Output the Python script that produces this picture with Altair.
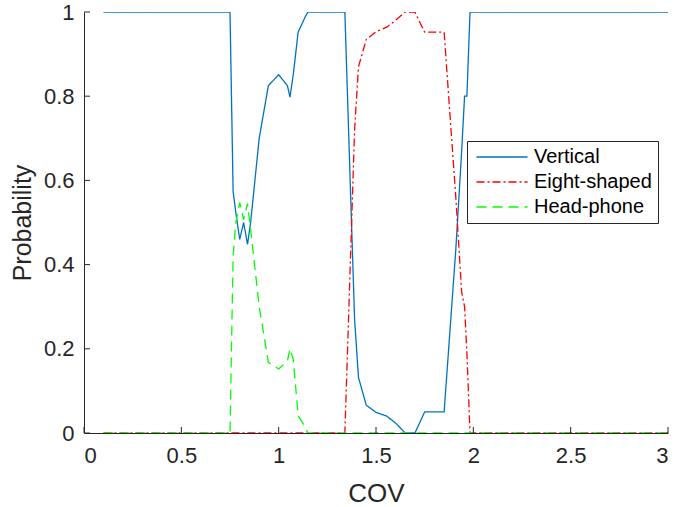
import altair as alt
import pandas as pd

# Common COV sample positions
cov = [0.1, 0.75, 0.766, 0.78, 0.80, 0.82, 0.84, 0.856, 0.90, 0.947, 1.0, 1.045,
       1.058, 1.075, 1.10, 1.138, 1.15, 1.34, 1.37, 1.39, 1.41, 1.45, 1.50, 1.555,
       1.60, 1.65, 1.70, 1.75, 1.85, 1.91, 1.94, 1.955, 1.967, 1.983, 3.0]

vertical = [1, 1, 0.574, 0.523, 0.46, 0.50, 0.448, 0.50, 0.70, 0.825, 0.851, 0.825,
            0.798, 0.851, 0.952, 0.99, 1, 1, 0.56, 0.27, 0.132, 0.066, 0.049, 0.04,
            0.024, 0, 0, 0.05, 0.05, 0.436, 0.669, 0.80, 0.80, 1, 1]

eight_shaped = [0, 0, 0, 0, 0, 0, 0, 0, 0, 0, 0, 0,
                0, 0, 0, 0, 0, 0, 0.43, 0.72, 0.87, 0.935, 0.953, 0.964,
                0.98, 1, 1, 0.952, 0.952, 0.56, 0.335, 0.30, 0.19, 0, 0]

head_phone = [0, 0, 0.42, 0.50, 0.547, 0.507, 0.545, 0.483, 0.30, 0.168, 0.152, 0.171,
              0.20, 0.175, 0.041, 0.013, 0, 0, 0, 0, 0, 0, 0, 0,
              0, 0, 0, 0, 0, 0, 0, 0, 0, 0, 0]

series_names = ["Vertical", "Eight-shaped", "Head-phone"]
series_colors = ["#0072BD", "#FF0000", "#00FF00"]
series_dashes = [[1, 0], [8, 3, 2, 3], [10, 6]]

x_ticks = [0, 0.5, 1, 1.5, 2, 2.5, 3]
y_ticks = [0, 0.2, 0.4, 0.6, 0.8, 1]

rows = []
for name, vals in zip(series_names, [vertical, eight_shaped, head_phone]):
    for i, (c, v) in enumerate(zip(cov, vals)):
        rows.append({"COV": c, "Probability": v, "series": name, "order": i})
df = pd.DataFrame(rows)

W, H = 584, 421
xscale = alt.Scale(domain=[0, 3], nice=False, zero=False)
yscale = alt.Scale(domain=[0, 1], nice=False)
ink = "#262626"

lines = alt.Chart(df).mark_line(strokeWidth=1.3, clip=True).encode(
    x=alt.X("COV:Q", scale=xscale,
            axis=alt.Axis(title="COV", values=x_ticks, format="~g", ticks=False,
                          tickSize=0, labelPadding=12, titleFontSize=26,
                          titleX=W / 2, titleY=68, titleBaseline="alphabetic",
                          titleFontWeight="normal")),
    y=alt.Y("Probability:Q", scale=yscale,
            axis=alt.Axis(title="Probability", values=y_ticks, format="~g",
                          ticks=False, tickSize=0, labelPadding=10,
                          titleFontSize=25, titleAngle=-90, titleX=-54,
                          titleY=H / 2, titleAlign="center",
                          titleBaseline="alphabetic", titleFontWeight="normal")),
    color=alt.Color("series:N",
                    scale=alt.Scale(domain=series_names, range=series_colors),
                    legend=alt.Legend(title=None, orient="none", legendX=383,
                                      legendY=129, symbolType="M-5,0H5",
                                      symbolSize=104, symbolStrokeWidth=1.3,
                                      symbolFillColor="transparent",
                                      labelFontSize=20, labelFont="Liberation Sans",
                                      labelColor="#000000", strokeColor=ink,
                                      fillColor="white", padding=6, rowPadding=5,
                                      symbolOffset=19, labelOffset=22)),
    strokeDash=alt.StrokeDash("series:N",
                              scale=alt.Scale(domain=series_names,
                                              range=series_dashes),
                              legend=None),
    order="order:Q",
)

xt = pd.DataFrame({"t": x_ticks})
yt = pd.DataFrame({"t": y_ticks})
xtick_marks = alt.Chart(xt).mark_rule(color=ink, strokeWidth=1).encode(
    x=alt.X("t:Q", scale=xscale), y=alt.value(H), y2=alt.value(H - 6))
ytick_marks = alt.Chart(yt).mark_rule(color=ink, strokeWidth=1).encode(
    y=alt.Y("t:Q", scale=yscale), x=alt.value(0), x2=alt.value(6))

chart = alt.layer(lines, xtick_marks, ytick_marks).properties(
    width=W, height=H,
    autosize=alt.AutoSizeParams(type="none"),
    padding={"left": 84, "top": 12, "right": 8, "bottom": 74},
    background="white",
).configure_view(stroke=None).configure_axis(
    grid=False, domainColor=ink, domainWidth=1, labelColor=ink, titleColor=ink,
    labelFont="Liberation Sans", titleFont="Liberation Sans", labelFontSize=22,
)

chart.save("out.html", embed_options={"renderer": "svg", "actions": False})
